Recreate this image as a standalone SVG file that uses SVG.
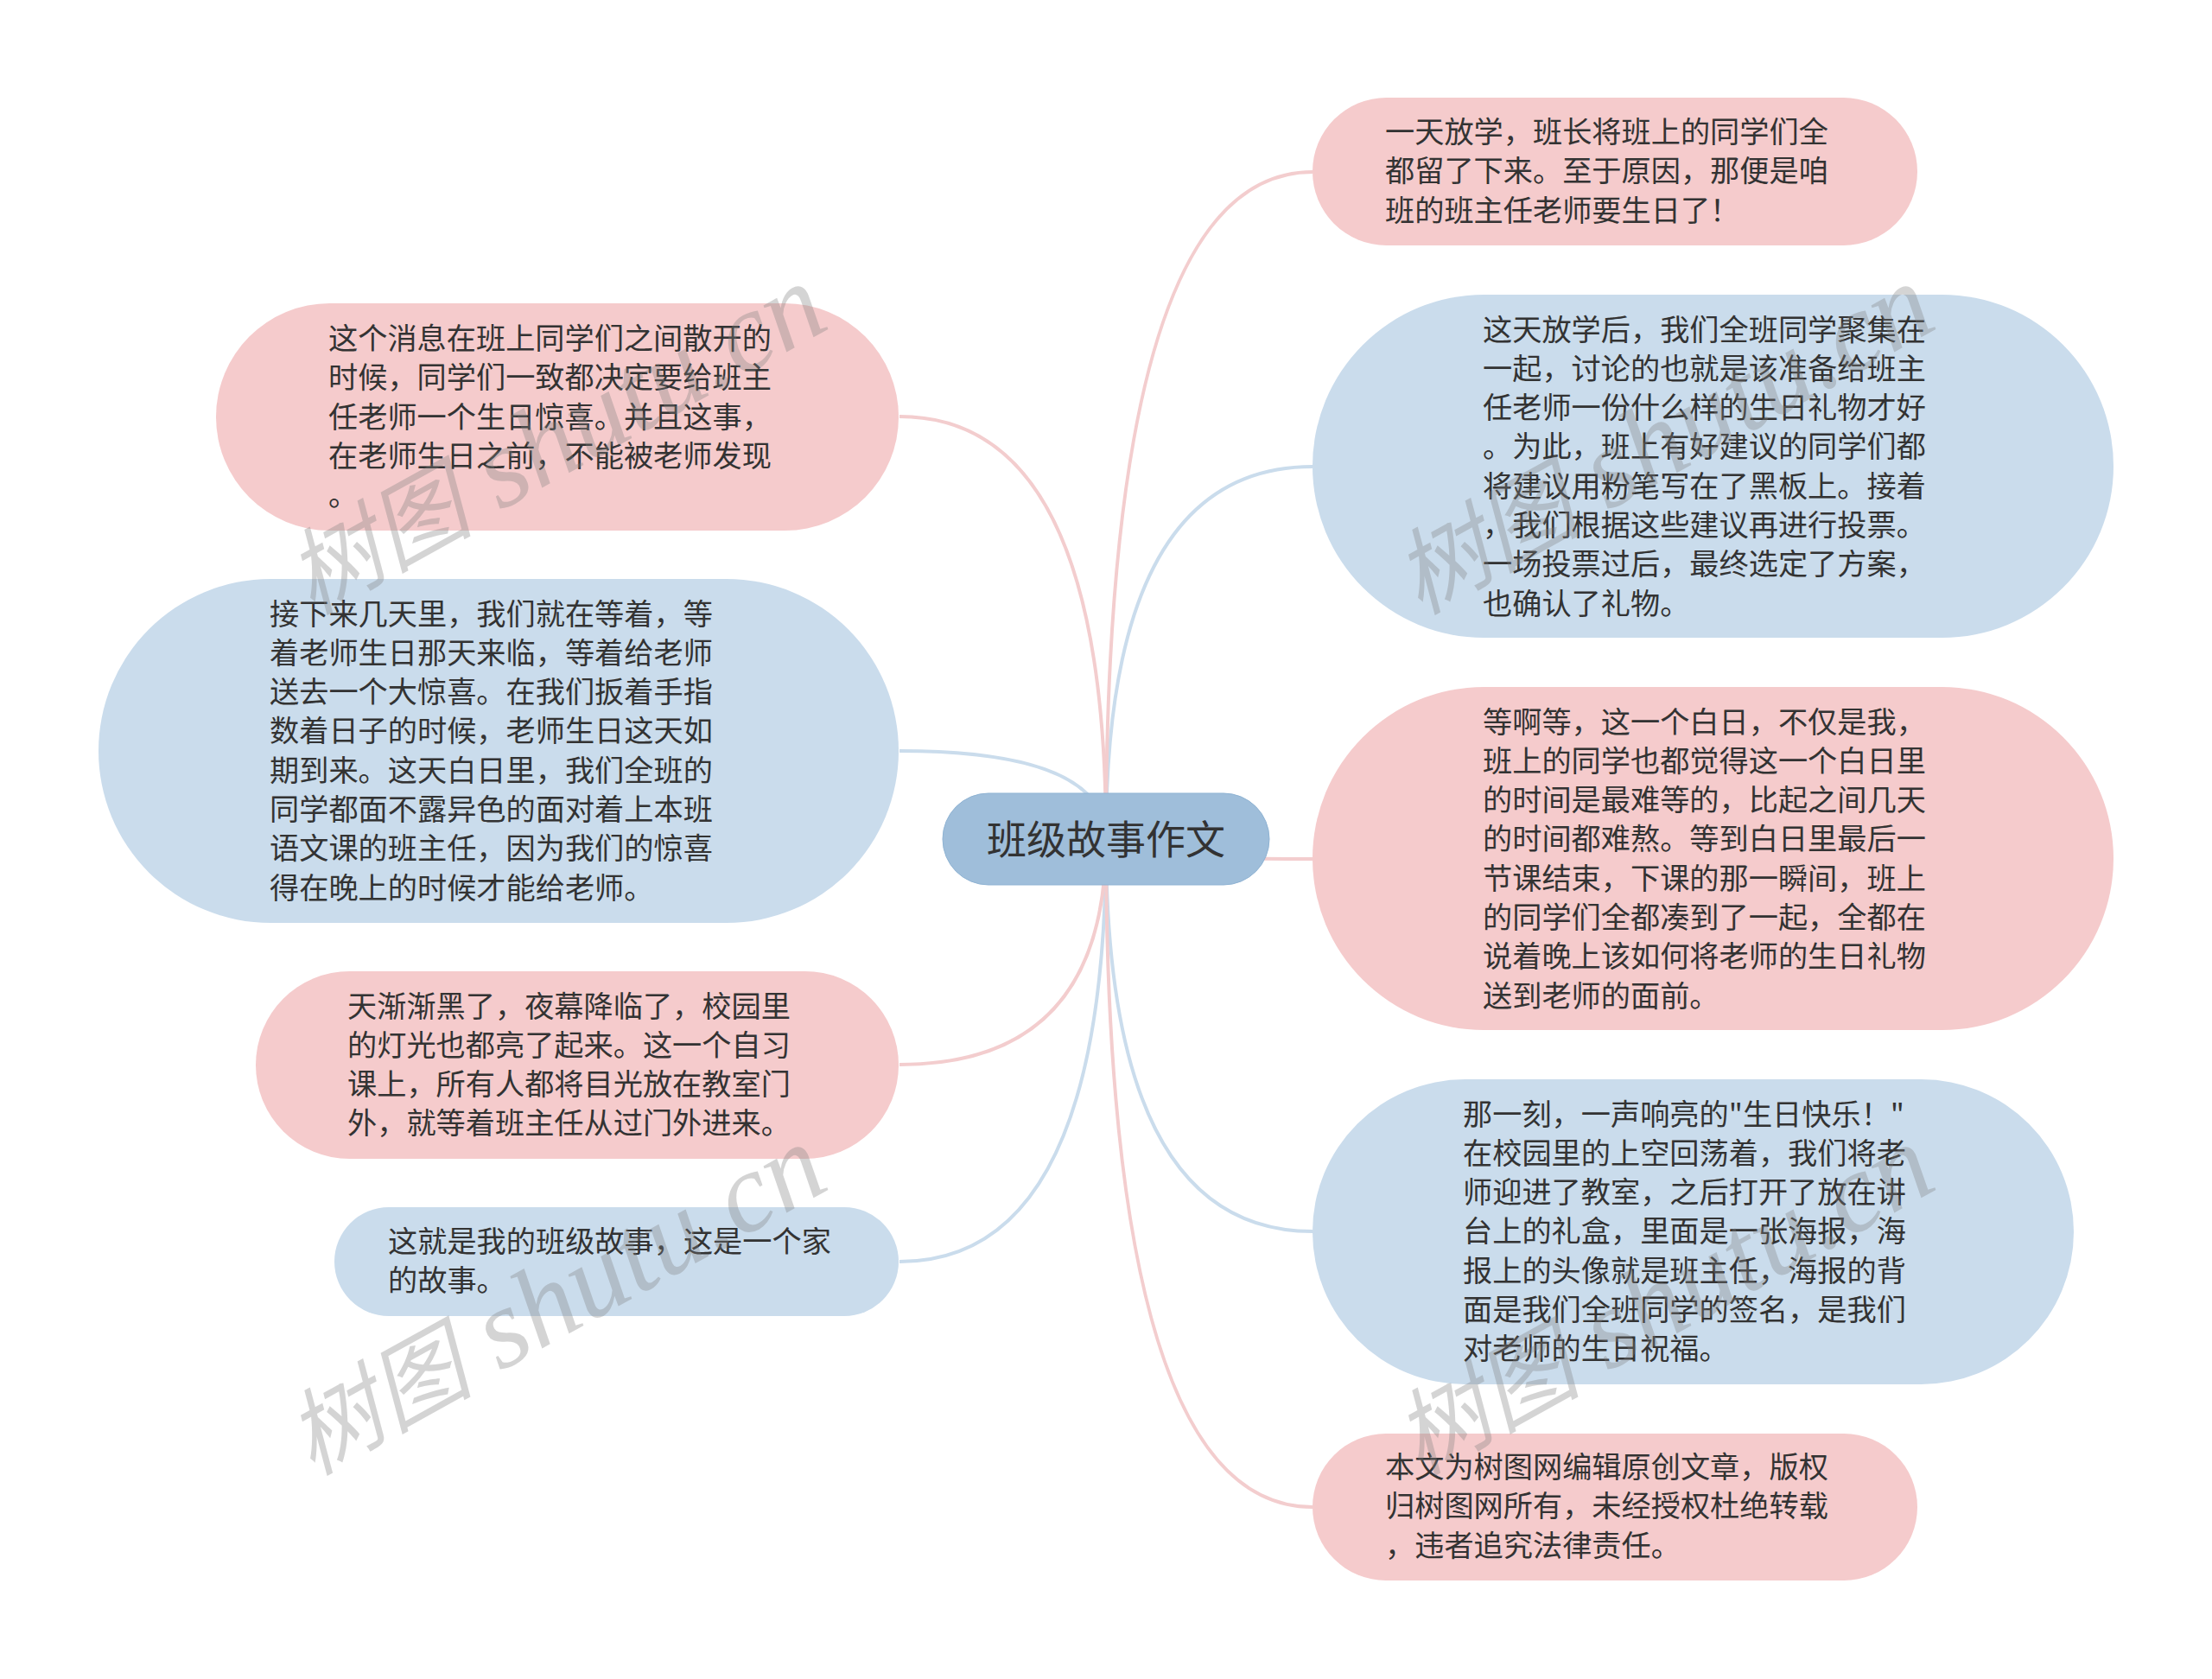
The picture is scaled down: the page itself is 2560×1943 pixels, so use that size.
<svg xmlns="http://www.w3.org/2000/svg" width="2560" height="1943" viewBox="0 0 2560 1943">
<style>
.pink{fill:#f5cbcc}
.blue{fill:#cadcec}
.root{fill:#9fbeda;stroke:#8fb3d3;stroke-width:1}
.t{font-family:"Noto Sans CJK SC","Liberation Sans",sans-serif;font-size:34.2px;fill:#333}
.rt{font-family:"Noto Sans CJK SC","Liberation Sans",sans-serif;font-size:46px;fill:#333;text-anchor:middle}
.c{fill:none;stroke-width:4}
.cp{stroke:#f3cdce}
.cb{stroke:#cadcec}
.wm{font-family:"Liberation Serif","Noto Sans CJK SC",serif;font-style:italic;font-size:131px;fill:#808080;opacity:.33}
.wc{font-size:108px}
</style>
<rect width="2560" height="1943" fill="#fff"/>
<g id="connectors">
<path class="c cb" d="M1280 971Q1280 540 1519 540"/>
<path class="c cb" d="M1280 971Q1280 869 1041 869"/>
<path class="c cb" d="M1280 971Q1280 1425 1519 1425"/>
<path class="c cb" d="M1280 971Q1280 1460 1041 1460"/>
<path class="c cp" d="M1280 971Q1280 199 1519 199"/>
<path class="c cp" d="M1280 971Q1280 482 1041 482"/>
<path class="c cp" d="M1280 971Q1280 994 1519 994"/>
<path class="c cp" d="M1280 971Q1280 1232 1041 1232"/>
<path class="c cp" d="M1280 971Q1280 1744 1519 1744"/>
</g>
<g id="root"><rect class="root" x="1091" y="918" width="378" height="106" rx="53"/><text class="rt" x="1280" y="988">班级故事作文</text></g>
<g id="r1"><rect class="pink" x="1519" y="113" width="700" height="171" rx="85.5"/>
<text class="t" y="165"><tspan x="1603">一天放学，班长将班上的同学们全</tspan><tspan x="1603" dy="45.3">都留了下来。至于原因，那便是咱</tspan><tspan x="1603" dy="45.3">班的班主任老师要生日了！</tspan></text></g>
<g id="r2"><rect class="blue" x="1519" y="341" width="927" height="397" rx="198.5"/>
<text class="t" y="393.500"><tspan x="1716">这天放学后，我们全班同学聚集在</tspan><tspan x="1716" dy="45.3">一起，讨论的也就是该准备给班主</tspan><tspan x="1716" dy="45.3">任老师一份什么样的生日礼物才好</tspan><tspan x="1716" dy="45.3">。为此，班上有好建议的同学们都</tspan><tspan x="1716" dy="45.3">将建议用粉笔写在了黑板上。接着</tspan><tspan x="1716" dy="45.3">，我们根据这些建议再进行投票。</tspan><tspan x="1716" dy="45.3">一场投票过后，最终选定了方案，</tspan><tspan x="1716" dy="45.3">也确认了礼物。</tspan></text></g>
<g id="r3"><rect class="pink" x="1519" y="795" width="927" height="397" rx="198.5"/>
<text class="t" y="847.500"><tspan x="1716">等啊等，这一个白日，不仅是我，</tspan><tspan x="1716" dy="45.3">班上的同学也都觉得这一个白日里</tspan><tspan x="1716" dy="45.3">的时间是最难等的，比起之间几天</tspan><tspan x="1716" dy="45.3">的时间都难熬。等到白日里最后一</tspan><tspan x="1716" dy="45.3">节课结束，下课的那一瞬间，班上</tspan><tspan x="1716" dy="45.3">的同学们全都凑到了一起，全都在</tspan><tspan x="1716" dy="45.3">说着晚上该如何将老师的生日礼物</tspan><tspan x="1716" dy="45.3">送到老师的面前。</tspan></text></g>
<g id="r4"><rect class="blue" x="1519" y="1249" width="881" height="353" rx="176.5"/>
<text class="t" y="1301.500"><tspan x="1693">那一刻，一声响亮的"生日快乐！"</tspan><tspan x="1693" dy="45.3">在校园里的上空回荡着，我们将老</tspan><tspan x="1693" dy="45.3">师迎进了教室，之后打开了放在讲</tspan><tspan x="1693" dy="45.3">台上的礼盒，里面是一张海报，海</tspan><tspan x="1693" dy="45.3">报上的头像就是班主任，海报的背</tspan><tspan x="1693" dy="45.3">面是我们全班同学的签名，是我们</tspan><tspan x="1693" dy="45.3">对老师的生日祝福。</tspan></text></g>
<g id="r5"><rect class="pink" x="1519" y="1659" width="700" height="170" rx="85"/>
<text class="t" y="1710"><tspan x="1603">本文为树图网编辑原创文章，版权</tspan><tspan x="1603" dy="45.3">归树图网所有，未经授权杜绝转载</tspan><tspan x="1603" dy="45.3">，违者追究法律责任。</tspan></text></g>
<g id="l1"><rect class="pink" x="250" y="351" width="790" height="263" rx="131.5"/>
<text class="t" y="404"><tspan x="380">这个消息在班上同学们之间散开的</tspan><tspan x="380" dy="45.3">时候，同学们一致都决定要给班主</tspan><tspan x="380" dy="45.3">任老师一个生日惊喜。并且这事，</tspan><tspan x="380" dy="45.3">在老师生日之前，不能被老师发现</tspan><tspan x="380" dy="45.3">。</tspan></text></g>
<g id="l2"><rect class="blue" x="114" y="670" width="926" height="398" rx="199"/>
<text class="t" y="722.500"><tspan x="312">接下来几天里，我们就在等着，等</tspan><tspan x="312" dy="45.3">着老师生日那天来临，等着给老师</tspan><tspan x="312" dy="45.3">送去一个大惊喜。在我们扳着手指</tspan><tspan x="312" dy="45.3">数着日子的时候，老师生日这天如</tspan><tspan x="312" dy="45.3">期到来。这天白日里，我们全班的</tspan><tspan x="312" dy="45.3">同学都面不露异色的面对着上本班</tspan><tspan x="312" dy="45.3">语文课的班主任，因为我们的惊喜</tspan><tspan x="312" dy="45.3">得在晚上的时候才能给老师。</tspan></text></g>
<g id="l3"><rect class="pink" x="296" y="1124" width="744" height="217" rx="108.5"/>
<text class="t" y="1176.500"><tspan x="402">天渐渐黑了，夜幕降临了，校园里</tspan><tspan x="402" dy="45.3">的灯光也都亮了起来。这一个自习</tspan><tspan x="402" dy="45.3">课上，所有人都将目光放在教室门</tspan><tspan x="402" dy="45.3">外，就等着班主任从过门外进来。</tspan></text></g>
<g id="l4"><rect class="blue" x="387" y="1397" width="653" height="126" rx="63"/>
<text class="t" y="1449"><tspan x="449">这就是我的班级故事，这是一个家</tspan><tspan x="449" dy="45.3">的故事。</tspan></text></g>
<g id="watermarks">
<text class="wm" transform="translate(361 712) rotate(-29)"><tspan class="wc">树图</tspan> shutu.cn</text>
<text class="wm" transform="translate(361 1708) rotate(-29)"><tspan class="wc">树图</tspan> shutu.cn</text>
<text class="wm" transform="translate(1643 712) rotate(-29)"><tspan class="wc">树图</tspan> shutu.cn</text>
<text class="wm" transform="translate(1643 1708) rotate(-29)"><tspan class="wc">树图</tspan> shutu.cn</text>
</g>
</svg>
